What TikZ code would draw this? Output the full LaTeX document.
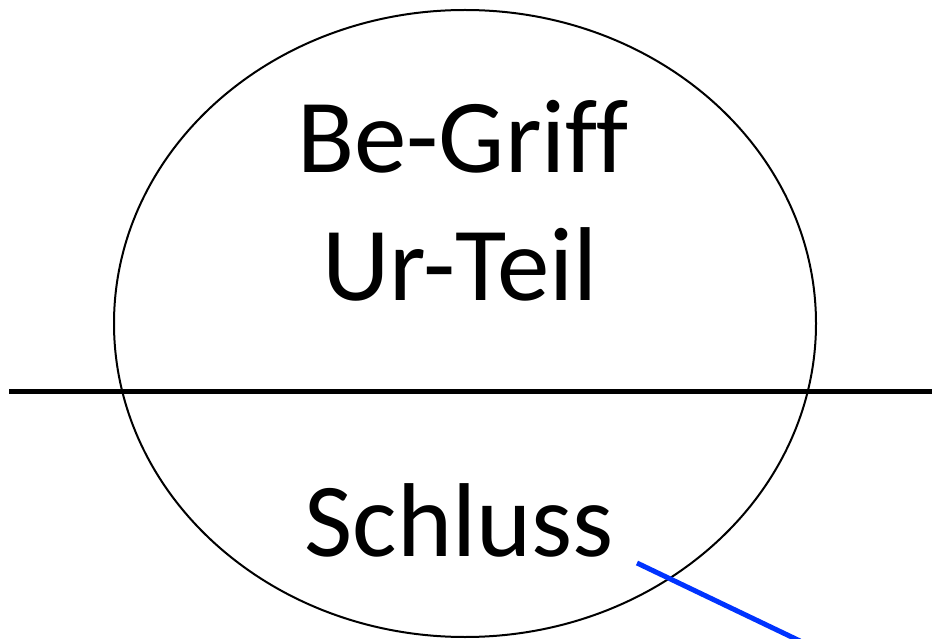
\documentclass[tikz,border=0pt]{standalone}
\usepackage{fontspec}
\usetikzlibrary{shapes.geometric}
\setmainfont[Ligatures=NoCommon]{Carlito}
\definecolor{linkblue}{RGB}{0,51,255}
\begin{document}
\begin{tikzpicture}[x=1pt,y=-1pt,
  bigtext/.style={inner sep=0pt,anchor=base,font=\fontsize{105}{126}\selectfont},
  outline/.style={draw=black,line width=2pt,ellipse,inner sep=0pt,outer sep=0pt},
  divider/.style={draw=black,line width=5pt},
  bluelink/.style={draw=linkblue,line width=5pt}]
\useasboundingbox (0,0) rectangle (932,639);
\node[outline,minimum width=702pt,minimum height=627pt] (shape) at (465,323.5) {};
\node[bigtext] (begriff) at (463,172.7) {Be-Griff};
\node[bigtext] (urteil) at (460,300.5) {Ur-Teil};
\node[bigtext] (schluss) at (459,556) {Schluss};
\coordinate (lineL) at (9,391);
\coordinate (lineR) at (932,391);
\draw[divider] (lineL) -- (lineR);
\coordinate (blueA) at (637,563);
\coordinate (blueB) at (800,641);
\draw[bluelink] (blueA) -- (blueB);
\end{tikzpicture}
\end{document}
